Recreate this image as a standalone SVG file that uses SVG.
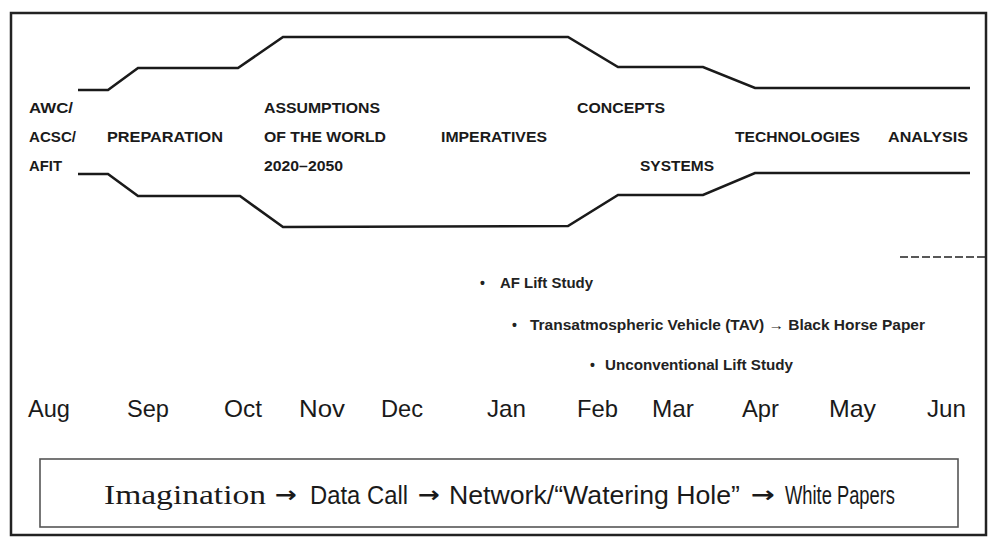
<svg xmlns="http://www.w3.org/2000/svg" width="992" height="537" viewBox="0 0 992 537">
<style>
.band{fill:none;stroke:#1a1a1a;stroke-width:2.6;stroke-linejoin:miter}
.hd{font-family:"Liberation Sans",Arial,sans-serif;font-weight:bold;font-size:15px;fill:#1a1a1a}
.bl{font-family:"Liberation Sans",Arial,sans-serif;font-weight:bold;font-size:14px;fill:#222}
.mo{font-family:"Liberation Sans",Arial,sans-serif;font-size:24px;fill:#1a1a1a}
.sf{font-family:"Liberation Serif","Times New Roman",serif;font-size:28px;fill:#1a1a1a}
.ss{font-family:"Liberation Sans",Arial,sans-serif;font-size:26px;fill:#1a1a1a}
.ar{font-family:"DejaVu Sans",sans-serif;font-weight:bold;font-size:22px;fill:#1a1a1a}
</style>
<rect x="0" y="0" width="992" height="537" fill="#fff"/>
<g id="frame">
<rect x="11" y="13" width="975" height="522" fill="none" stroke="#222" stroke-width="2.5"/>
</g>
<g id="connectors">
<polyline class="band" points="78,90 108,90 138,68 238,68 283,37 568,37 618,67 703,67 755,88 970,88"/>
<polyline class="band" points="78,174 108,174 138,196 240,196 283,227 568,226 618,195 703,195 755,173 970,173"/>
<line x1="900" y1="257" x2="986" y2="257" stroke="#222" stroke-width="1.6" stroke-dasharray="8,3"/>
</g>
<g id="node-awc">
<text class="hd" x="29" y="113" textLength="44" lengthAdjust="spacingAndGlyphs">AWC/</text>
<text class="hd" x="29" y="142" textLength="47" lengthAdjust="spacingAndGlyphs">ACSC/</text>
<text class="hd" x="29" y="171" textLength="33" lengthAdjust="spacingAndGlyphs">AFIT</text>
</g>
<g id="node-preparation">
<text class="hd" x="107" y="142" textLength="116" lengthAdjust="spacingAndGlyphs">PREPARATION</text>
</g>
<g id="node-assumptions">
<text class="hd" x="264" y="113" textLength="116" lengthAdjust="spacingAndGlyphs">ASSUMPTIONS</text>
<text class="hd" x="264" y="142" textLength="122" lengthAdjust="spacingAndGlyphs">OF THE WORLD</text>
<text class="hd" x="264" y="171" textLength="79" lengthAdjust="spacingAndGlyphs">2020–2050</text>
</g>
<g id="node-imperatives">
<text class="hd" x="441" y="142" textLength="106" lengthAdjust="spacingAndGlyphs">IMPERATIVES</text>
</g>
<g id="node-concepts">
<text class="hd" x="577" y="113" textLength="88" lengthAdjust="spacingAndGlyphs">CONCEPTS</text>
</g>
<g id="node-systems">
<text class="hd" x="640" y="171" textLength="74" lengthAdjust="spacingAndGlyphs">SYSTEMS</text>
</g>
<g id="node-technologies">
<text class="hd" x="735" y="142" textLength="125" lengthAdjust="spacingAndGlyphs">TECHNOLOGIES</text>
</g>
<g id="node-analysis">
<text class="hd" x="888" y="142" textLength="80" lengthAdjust="spacingAndGlyphs">ANALYSIS</text>
</g>
<g id="studies">
<text class="bl" x="480" y="288" font-size="16">•</text>
<text class="bl" x="500" y="288" textLength="93" lengthAdjust="spacingAndGlyphs">AF Lift Study</text>
<text class="bl" x="512" y="330" font-size="16">•</text>
<text class="bl" x="530" y="330" textLength="395" lengthAdjust="spacingAndGlyphs">Transatmospheric Vehicle (TAV) → Black Horse Paper</text>
<text class="bl" x="590" y="370" font-size="16">•</text>
<text class="bl" x="605" y="370" textLength="188" lengthAdjust="spacingAndGlyphs">Unconventional Lift Study</text>
</g>
<g id="months">
<text class="mo" x="28" y="417" textLength="42" lengthAdjust="spacingAndGlyphs">Aug</text>
<text class="mo" x="127" y="417" textLength="42" lengthAdjust="spacingAndGlyphs">Sep</text>
<text class="mo" x="224" y="417" textLength="38" lengthAdjust="spacingAndGlyphs">Oct</text>
<text class="mo" x="299" y="417" textLength="46" lengthAdjust="spacingAndGlyphs">Nov</text>
<text class="mo" x="381" y="417" textLength="42" lengthAdjust="spacingAndGlyphs">Dec</text>
<text class="mo" x="487" y="417" textLength="39" lengthAdjust="spacingAndGlyphs">Jan</text>
<text class="mo" x="577" y="417" textLength="41" lengthAdjust="spacingAndGlyphs">Feb</text>
<text class="mo" x="652" y="417" textLength="42" lengthAdjust="spacingAndGlyphs">Mar</text>
<text class="mo" x="742" y="417" textLength="37" lengthAdjust="spacingAndGlyphs">Apr</text>
<text class="mo" x="829" y="417" textLength="47" lengthAdjust="spacingAndGlyphs">May</text>
<text class="mo" x="927" y="417" textLength="39" lengthAdjust="spacingAndGlyphs">Jun</text>
</g>
<g id="process-box">
<rect x="40" y="459" width="918" height="68" fill="none" stroke="#555" stroke-width="1.6"/>
<text class="sf" x="104" y="504" textLength="162" lengthAdjust="spacingAndGlyphs">Imagination</text>
<text class="ar" x="275" y="502" textLength="22" lengthAdjust="spacingAndGlyphs">→</text>
<text class="ss" x="310" y="504" textLength="98" lengthAdjust="spacingAndGlyphs">Data Call</text>
<text class="ar" x="418" y="502" textLength="22" lengthAdjust="spacingAndGlyphs">→</text>
<text class="ss" x="449" y="504" textLength="291" lengthAdjust="spacingAndGlyphs">Network/“Watering Hole”</text>
<text class="ar" x="751" y="502" textLength="24" lengthAdjust="spacingAndGlyphs">→</text>
<text class="ss" x="785" y="504" textLength="110" lengthAdjust="spacingAndGlyphs">White Papers</text>
</g>
</svg>
